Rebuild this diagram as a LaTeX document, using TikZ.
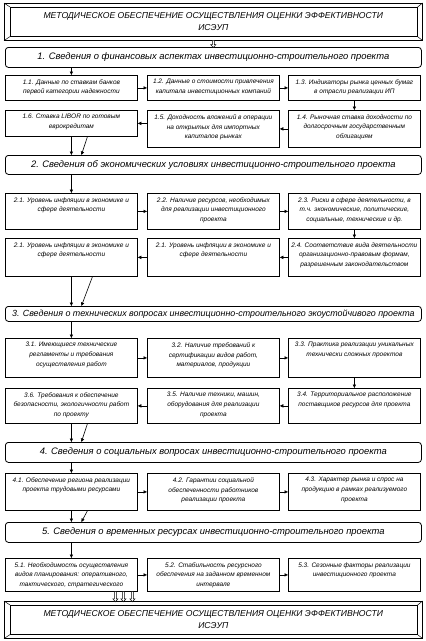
\documentclass[tikz,border=0pt]{standalone}
\usepackage{fontspec}
\setmainfont{Liberation Sans}
\usetikzlibrary{arrows.meta,calc}
\newcommand\bx[6]{\node[smallbox] (#1) at (#2,#3) {\parbox[c][#5pt][t]{#4pt}{\centering\vspace*{4pt}#6\par}};}
\newcommand\hollowarr[2]{\draw[line width=0.5pt,fill=white] #1 ++(-1,0) -- ++(0,#2-3) -- ++(-1.6,0) -- ++(2.6,3) -- ++(2.6,-3) -- ++(-1.6,0) -- ++(0,-#2+3);}
\begin{document}
\begin{tikzpicture}[x=1pt,y=-1pt,
  smallbox/.style={draw,line width=0.8pt,inner sep=0pt,anchor=north west,font=\itshape\fontsize{6.5}{9.8}\selectfont},
  headbox/.style={draw,line width=0.8pt,rounded corners=3pt,inner sep=0pt,anchor=north west,minimum width=416pt,font=\itshape\fontsize{9.4}{11}\selectfont},
  framebox/.style={draw,line width=0.6pt,inner sep=0pt,anchor=north west,minimum width=418pt,minimum height=37pt,align=center,font=\itshape\fontsize{8.6}{12}\selectfont},
  arr/.style={-{Triangle[length=3.5pt,width=3.2pt]},line width=0.6pt}]
\useasboundingbox (0,0) rectangle (426,641);
% top frame
\node[framebox] (top) at (4,3) {МЕТОДИЧЕСКОЕ ОБЕСПЕЧЕНИЕ ОСУЩЕСТВЛЕНИЯ ОЦЕНКИ ЭФФЕКТИВНОСТИ\\ИСЭУП};
\draw[line width=0.6pt] ($(top.north west)+(6,4)$) rectangle ($(top.south east)+(-5,-4)$);
\draw[line width=0.5pt] (top.north west) -- ++(6,4) (top.north east) -- ++(-5,4) (top.south west) -- ++(6,-4) (top.south east) -- ++(-5,-4);
% section 1
\node[headbox,minimum height=20pt] (h1) at (5,47) {1. Сведения о финансовых аспектах инвестиционно-строительного проекта};
\hollowarr{(top.south)}{7}
\bx{b11}{5}{75}{132}{25}{1.1. Данные по ставкам банков\\первой категории надежности}
\bx{b12}{147}{75}{132}{25}{1.2. Данные о стоимости привлечения\\капитала инвестиционных компаний}
\bx{b13}{288}{75}{132}{25}{1.3. Индикаторы рынка ценных бумаг\\в отрасли реализации ИП}
\bx{b14}{288}{110}{132}{37}{1.4. Рыночная ставка доходности по\\долгосрочным государственным\\облигациям}
\bx{b15}{147}{110}{132}{37}{1.5. Доходность вложений в операции\\на открытых для импортных\\капиталов рынках}
\bx{b16}{5}{110}{132}{26}{1.6. Ставка LIBOR по готовым\\еврокредитам}
\draw[arr] (b11.north |- h1.south) -- (b11.north);
\draw[arr] (b11.east) -- (b12.west);
\draw[arr] (b12.east) -- (b13.west);
\draw[arr] (b13.south) -- (b14.north);
\draw[arr] (b14.west) -- (b15.east);
\draw[arr] (b15.west |- b16.east) -- (b16.east);
% section 2
\node[headbox,minimum height=19pt] (h2) at (5,155) {2. Сведения об экономических условиях инвестиционно-строительного проекта};
\draw[arr] (b16.south) -- (b16.south |- h2.north);
\draw[arr] ($(b16.south)+(16,0)$) -- ($(b16.south |- h2.north)+(10,0)$);
\bx{b21}{5}{193}{132}{36}{2.1. Уровень инфляции в экономике и\\сфере деятельности}
\bx{b22}{147}{193}{132}{36}{2.2. Наличие ресурсов, необходимых\\для реализации инвестиционного\\проекта}
\bx{b23}{288}{193}{132}{36}{2.3. Риски в сфере деятельности, в\\т.ч. экономические, политические,\\социальные, технические и др.}
\bx{b24}{288}{238}{132}{38}{2.4. Соответствие вида деятельности\\организационно-правовым формам,\\разрешенным законодательством}
\bx{b25}{147}{238}{132}{38}{2.1. Уровень инфляции в экономике и\\сфере деятельности}
\bx{b26}{5}{238}{132}{38}{2.1. Уровень инфляции в экономике и\\сфере деятельности}
\draw[arr] (b21.north |- h2.south) -- (b21.north);
\draw[arr] (b21.east) -- (b22.west);
\draw[arr] (b22.east) -- (b23.west);
\draw[arr] (b23.south) -- (b24.north);
\draw[arr] (b24.west) -- (b25.east);
\draw[arr] (b25.west) -- (b26.east);
% section 3
\node[headbox,minimum height=15pt,font=\itshape\fontsize{8.9}{10}\selectfont] (h3) at (5,306) {3. Сведения о технических вопросах инвестиционно-строительного экоустойчивого проекта};
\draw[arr] (b26.south) -- (b26.south |- h3.north);
\draw[arr] ($(b26.south)+(21,0)$) -- ($(b26.south |- h3.north)+(10,0)$);
\bx{b31}{5}{338}{132}{39}{3.1. Имеющиеся технические\\регламенты и требования\\осуществления работ}
\bx{b32}{147}{338}{132}{39}{3.2. Наличие требований к\\сертификации видов работ,\\материалов, продукции}
\bx{b33}{288}{338}{132}{39}{3.3. Практика реализации уникальных\\технически сложных проектов}
\bx{b34}{288}{388}{132}{35}{3.4. Территориальное расположение\\поставщиков ресурсов для проекта}
\bx{b35}{147}{388}{132}{35}{3.5. Наличие техники, машин,\\оборудования для реализации\\проекта}
\bx{b36}{5}{388}{132}{35}{3.6. Требования к обеспечение\\безопасности, экологичности работ\\по проекту}
\draw[arr] (b31.north |- h3.south) -- (b31.north);
\draw[arr] (b31.east) -- (b32.west);
\draw[arr] (b32.east) -- (b33.west);
\draw[arr] (b33.south) -- (b34.north);
\draw[arr] (b34.west) -- (b35.east);
\draw[arr] (b35.west) -- (b36.east);
% section 4
\node[headbox,minimum height=20pt] (h4) at (5,442) {4. Сведения о социальных вопросах инвестиционно-строительного проекта};
\draw[arr] (b36.south) -- (b36.south |- h4.north);
\draw[arr] ($(b36.south)+(16,0)$) -- ($(b36.south |- h4.north)+(10,0)$);
\bx{b41}{5}{473}{132}{37}{4.1. Обеспечение региона реализации\\проекта трудовыми ресурсами}
\bx{b42}{147}{473}{132}{37}{4.2. Гарантии социальной\\обеспеченности работников\\реализации проекта}
\bx{b43}{288}{473}{132}{37}{4.3. Характер рынка и спрос на\\продукцию в рамках реализуемого\\проекта}
\draw[arr] (b41.north |- h4.south) -- (b41.north);
\draw[arr] (b41.east) -- (b42.west);
\draw[arr] (b42.east) -- (b43.west);
% section 5
\node[headbox,minimum height=20pt] (h5) at (5,522) {5. Сведения о временных ресурсах инвестиционно-строительного проекта};
\draw[arr] (b41.south) -- (b41.south |- h5.north);
\draw[arr] ($(b41.south)+(16,0)$) -- ($(b41.south |- h5.north)+(10,0)$);
\bx{b51}{5}{558}{132}{33}{5.1. Необходимость осуществления\\видов планирования: оперативного,\\тактического, стратегического}
\bx{b52}{147}{558}{132}{33}{5.2. Стабильность ресурсного\\обеспечения на заданном временном\\интервале}
\bx{b53}{288}{558}{132}{33}{5.3. Сезонные факторы реализации\\инвестиционного проекта}
\draw[arr] (b51.north |- h5.south) -- (b51.north);
\draw[arr] (b51.east) -- (b52.west);
\draw[arr] (b52.east) -- (b53.west);
% bottom frame
\node[framebox] (bot) at (4,601) {МЕТОДИЧЕСКОЕ ОБЕСПЕЧЕНИЕ ОСУЩЕСТВЛЕНИЯ ОЦЕНКИ ЭФФЕКТИВНОСТИ\\ИСЭУП};
\draw[line width=0.6pt] ($(bot.north west)+(6,4)$) rectangle ($(bot.south east)+(-5,-4)$);
\draw[line width=0.5pt] (bot.north west) -- ++(6,4) (bot.north east) -- ++(-5,4) (bot.south west) -- ++(6,-4) (bot.south east) -- ++(-5,-4);
\hollowarr{($(b51.south)+(44,0)$)}{10}
\hollowarr{($(b51.south)+(52,0)$)}{10}
\hollowarr{($(b51.south)+(61,0)$)}{10}
\end{tikzpicture}
\end{document}
